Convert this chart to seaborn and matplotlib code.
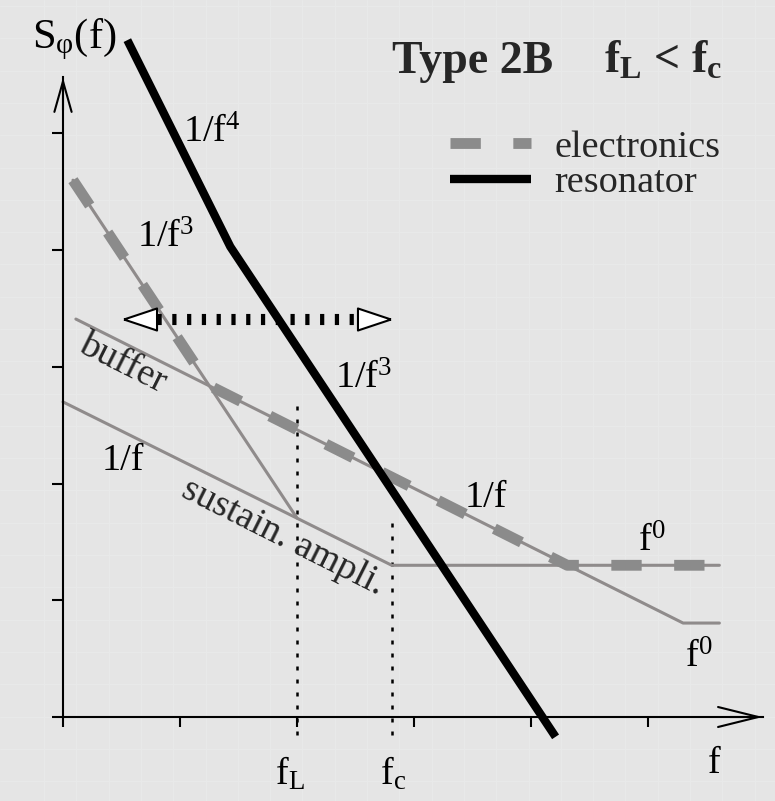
import matplotlib
matplotlib.use("Agg")
import matplotlib.pyplot as plt
from matplotlib.patches import Rectangle
import numpy as np
import seaborn as sns

# Asymptotic phase-noise segments on a log-log schematic (one unit per tick)
resonator_f = [0.55, 1.43, 4.21]
resonator_s = [5.80, 4.03, -0.17]
electronics_f = [0.085, 1.25, 4.31, 5.61]
electronics_s = [4.60, 2.84, 1.30, 1.30]
buffer_f = [0.11, 5.30, 5.61]
buffer_s = [3.41, 0.805, 0.805]
sustain_f = [0.0, 2.81, 5.61]
sustain_s = [2.70, 1.30, 1.30]
leeson_f = [0.085, 2.00]
leeson_s = [4.60, 1.705]
f_L = 2.00
f_c = 2.81
x_ticks = [0, 1, 2, 3, 4, 5]
y_ticks = [0, 1, 2, 3, 4, 5]
span_f = [0.52, 2.80]      # Leeson bandwidth arrow
span_level = 3.41

sns.set_theme(style="white")
plt.rcParams["font.family"] = ["Liberation Serif", "DejaVu Serif"]
plt.rcParams["mathtext.fontset"] = "custom"
plt.rcParams["mathtext.rm"] = "Liberation Serif"
plt.rcParams["mathtext.bf"] = "Liberation Serif:bold"
plt.rcParams["mathtext.default"] = "regular"

BG = "#e5e5e5"
GRAY_THIN = "#8f8b8b"
GRAY_DASH = "#8b8b8b"
FS = 27.5

fig = plt.figure(figsize=(7.75, 8.01), dpi=100, facecolor=BG)

# paper-like backdrop with a faint grid
bg = fig.add_axes([0, 0, 1, 1], zorder=-2)
bg.set_xlim(0, 775)
bg.set_ylim(801, 0)
bg.set_facecolor(BG)
bg.set_xticks(np.arange(44, 775, 32.3))
bg.set_yticks(np.arange(6, 801, 32.3))
bg.grid(True, color="#e8e9e9", lw=1.0)
bg.tick_params(length=0, labelbottom=False, labelleft=False)
for s in bg.spines.values():
    s.set_visible(False)
fig.patches.append(Rectangle((0, 0), 15 / 775, 1, transform=fig.transFigure,
                             color="#d9d9d9", zorder=-3))
fig.patches.append(Rectangle((15 / 775, 0), 15 / 775, 1, transform=fig.transFigure,
                             color="#f0f2f2", zorder=-3))

ax = fig.add_axes([0, 0, 1, 1])
ax.set_facecolor("none")
ax.set_xlim(-63 / 117, 712 / 117)
ax.set_ylim(-84 / 116.7, 717 / 116.7)


def segment(fx, sy, **kw):
    n = len(ax.lines)
    sns.lineplot(x=fx, y=sy, ax=ax, sort=False, estimator=None, legend=False, **kw)
    return ax.lines[n]


# corner-frequency markers
dot_kw = dict(color="black", lw=1.8)
ln = segment([f_L, f_L], [-0.155, 2.67], **dot_kw)
ln.set_dashes((1.6, 3.6))
ln = segment([f_c, f_c], [-0.155, 1.68], **dot_kw)
ln.set_dashes((1.6, 3.6))

# individual noise contributions
segment(leeson_f, leeson_s, color=GRAY_THIN, lw=2.2)
segment(sustain_f, sustain_s, color=GRAY_THIN, lw=2.2)
segment(buffer_f, buffer_s, color=GRAY_THIN, lw=2.2)

# total electronics noise and resonator
elec = segment(electronics_f, electronics_s, color=GRAY_DASH, lw=7.8)
elec.set_dashes((2.8, 3.0))
elec.set_dash_capstyle("butt")
res = segment(resonator_f, resonator_s, color="black", lw=6.0)
res.set_solid_capstyle("butt")

# Leeson bandwidth double arrow
head = 33 / 117
segment([span_f[0] + head, span_f[1] - head], [span_level, span_level],
        color="black", lw=8.0).set_dashes((0.38, 0.95))
ax.plot([span_f[0] + head / 2], [span_level], marker=[(-1.5, 0), (1.5, -1), (1.5, 1), (-1.5, 0)],
        ms=23.8, mfc="white", mec="black", mew=1.5, ls="none")
ax.plot([span_f[1] - head / 2], [span_level], marker=[(1.5, 0), (-1.5, -1), (-1.5, 1), (1.5, 0)],
        ms=23.8, mfc="white", mec="black", mew=1.5, ls="none")

# axes with arrow tips
for side in ("top", "right"):
    ax.spines[side].set_visible(False)
ax.spines["left"].set_position(("data", 0))
ax.spines["bottom"].set_position(("data", 0))
ax.spines["left"].set_bounds(0, 5.48)
ax.spines["bottom"].set_bounds(0, 5.98)
for side in ("left", "bottom"):
    ax.spines[side].set_linewidth(1.5)
    ax.spines[side].set_color("black")
ax.set_xticks(x_ticks)
ax.set_yticks(y_ticks)
ax.tick_params(axis="x", direction="out", length=7.2, width=1.5, color="black",
               labelbottom=False, bottom=True)
ax.tick_params(axis="y", direction="out", length=8.0, width=1.5, color="black",
               labelleft=False, left=True)
ax.annotate("", xy=(0, 5.48), xytext=(0, 5.2),
            arrowprops=dict(arrowstyle="->,head_length=22,head_width=6.2",
                            mutation_scale=1, lw=1.5, color="black",
                            shrinkA=0, shrinkB=0))
ax.annotate("", xy=(5.98, 0), xytext=(5.7, 0),
            arrowprops=dict(arrowstyle="->,head_length=29,head_width=7.2",
                            mutation_scale=1, lw=1.5, color="black",
                            shrinkA=0, shrinkB=0))

# labels
txt = dict(fontsize=FS, color="black", va="baseline", ha="left")
ax.text(-0.265, 5.733, r"S$_{φ}$(f)", fontsize=30.5, color="black", va="baseline", ha="left")
ax.text(1.026, 4.927, r"1/f$^{4}$", **txt)
ax.text(0.632, 4.019, r"1/f$^{3}$", **txt)
ax.text(2.325, 2.811, r"1/f$^{3}$", **txt)
ax.text(0.333, 2.117, "1/f", **txt)
ax.text(3.436, 1.799, "1/f", **txt)
ax.text(4.915, 1.414, r"f$^{0}$", **txt)
ax.text(5.316, 0.420, r"f$^{0}$", **txt)
ax.text(5.513, -0.480, "f", **txt)
ax.text(1.812, -0.583, r"f$_{L}$", **txt)
ax.text(2.709, -0.583, r"f$_{c}$", **txt)
ax.text(0.513, 3.025, "buffer", fontsize=FS, rotation=-26.6, rotation_mode="anchor",
        ha="center", va="center")
ax.text(1.880, 1.542, "sustain. ampli.", fontsize=FS, rotation=-26.6,
        rotation_mode="anchor", ha="center", va="center")
ax.text(2.812, 5.518, "Type 2B", fontsize=33, fontweight="bold", ha="left", va="baseline")
ax.text(5.632, 5.518, r"f$_{\mathbf{L}}$ < f$_{\mathbf{c}}$", fontsize=33,
        fontweight="bold", ha="right", va="baseline")

ax.legend(handles=[elec, res], labels=["electronics", "resonator"],
          loc="upper left", bbox_to_anchor=(450 / 775, (801 - 130) / 801),
          bbox_transform=fig.transFigure, frameon=False, fontsize=FS,
          handlelength=2.13, handletextpad=0.6, labelspacing=0.02,
          borderpad=0, borderaxespad=0)

fig.savefig("out.png", dpi=100, facecolor=BG)
